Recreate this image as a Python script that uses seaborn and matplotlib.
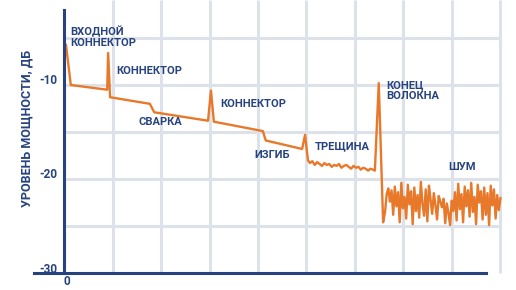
import numpy as np
import pandas as pd
import matplotlib
matplotlib.use("Agg")
import matplotlib.pyplot as plt
import matplotlib.transforms as mtransforms
import seaborn as sns

# ---------------- data ----------------
# main trace: launch connector, connectors, splice, bend, crack start
dist_main = [0.04, 0.14, 0.89, 0.91, 0.95, 1.77, 1.86, 2.97, 3.03, 3.09, 4.10, 4.16, 4.91, 4.97, 5.03]
level_main = [-5.7, -10.0, -10.5, -6.6, -11.3, -12.0, -12.9, -13.8, -10.6, -13.9, -14.9, -15.9, -16.8, -15.3, -18.0]

# crack region (small ripple)
dist_crack = [5.07, 5.12, 5.17, 5.22, 5.27, 5.32, 5.37, 5.42, 5.47, 5.52, 5.57, 5.62, 5.67, 5.72,
              5.77, 5.82, 5.87, 5.92, 5.97, 6.02, 6.07, 6.12, 6.17, 6.22, 6.27, 6.32, 6.37, 6.41]
level_crack = [-18.3, -18.1, -18.5, -18.2, -18.4, -18.6, -18.3, -18.5, -18.4, -18.7, -18.5, -18.6, -18.4, -18.8,
               -18.6, -18.5, -18.7, -18.9, -18.6, -18.8, -18.7, -19.0, -18.8, -18.9, -19.1, -18.9, -19.0, -19.1]

# fibre end reflection
dist_end = [6.49, 6.58]
level_end = [-9.8, -24.6]

# noise floor
noise_start, noise_stop = 6.62, 9.0
level_noise = [-23.5, -21.6, -21.0, -22.4, -21.2, -23.8, -20.8, -22.9, -21.4, -24.6,
               -20.4, -23.1, -21.9, -24.2, -20.6, -22.7, -21.3, -24.8, -20.9, -23.4,
               -21.7, -24.1, -20.3, -22.6, -23.9, -21.1, -24.5, -20.7, -22.2, -23.7,
               -21.5, -22.8, -24.3, -21.8, -22.4, -23.0, -22.1, -24.7, -22.6, -23.6,
               -24.9, -22.3, -23.4, -21.4, -24.4, -20.5, -23.2, -21.6, -24.6, -20.8,
               -22.9, -21.2, -24.0, -20.4, -23.5, -21.9, -24.8, -20.6, -22.5, -21.3,
               -24.3, -20.9, -23.8, -21.5, -24.9, -20.7, -22.8, -21.1, -24.2, -21.7,
               -23.3, -22.0]
dist_noise = list(np.linspace(noise_start, noise_stop, len(level_noise)))

y_ticks = [-30, -25, -20, -15, -10, -5]
y_tick_labels = ["-30", "", "-20", "", "-10", ""]
x_ticks = [0, 1, 2, 3, 4, 5, 6, 7, 8]
x_tick_labels = ["0", "", "", "", "", "", "", "", ""]

annotations = [
    ("ВХОДНОЙ\nКОННЕКТОР", 0.12, -3.72),
    ("КОННЕКТОР", 1.07, -7.98),
    ("СВАРКА", 1.53, -13.4),
    ("КОННЕКТОР", 3.22, -11.5),
    ("ИЗГИБ", 3.92, -16.9),
    ("ТРЕЩИНА", 5.18, -15.96),
    ("КОНЕЦ\nВОЛОКНА", 6.64, -9.47),
    ("ШУМ", 7.92, -18.2),
]
y_label = "УРОВЕНЬ МОЩНОСТИ, ДБ"

# ---------------- build frame ----------------
dist = dist_main + dist_crack + dist_end + dist_noise
level = level_main + level_crack + level_end + level_noise
df = pd.DataFrame({"dist": dist, "level": level})

# ---------------- style ----------------
sns.set_theme(style="white")
plt.rcParams["font.family"] = ["Roboto", "DejaVu Sans"]

NAVY = "#27437f"
ORANGE = "#e8782a"
GRID = "#dde2ea"

fig = plt.figure(figsize=(5.16, 2.90), dpi=100)
ax = fig.add_axes([0, 0, 1, 1])
ax.set_xlim(-1.32, 9.32)
ax.set_ylim(-31.8, -0.96)

# grid
ax.hlines([-25, -20, -15, -10, -5], 0, 9, color=GRID, lw=2.2, zorder=0)
ax.vlines([1, 2, 3, 4, 5, 6, 7, 8, 9], -30, -0.96, color=GRID, lw=2.2, zorder=0)

sns.lineplot(data=df, x="dist", y="level", ax=ax, color=ORANGE, lw=1.7,
             sort=False, estimator=None, zorder=3)

# spines as axes
for s in ["top", "right"]:
    ax.spines[s].set_visible(False)
ax.spines["left"].set_position(("data", 0))
ax.spines["bottom"].set_position(("data", -30))
ax.spines["left"].set_bounds(-30, -2.0)
ax.spines["bottom"].set_bounds(-0.62, 8.7)
for s in ["left", "bottom"]:
    ax.spines[s].set_color(NAVY)
    ax.spines[s].set_linewidth(2.2)
    ax.spines[s].set_zorder(4)

ax.set_yticks(y_ticks)
ax.set_yticklabels(y_tick_labels)
ax.set_xticks(x_ticks)
ax.set_xticklabels(x_tick_labels)
ax.tick_params(axis="both", direction="inout", length=8, width=1.4, color=NAVY,
               labelcolor=NAVY, labelsize=8.5, pad=1)
up = mtransforms.ScaledTranslation(0, 4 / 72, fig.dpi_scale_trans)
for lab in ax.get_yticklabels():
    lab.set_fontweight("bold")
    lab.set_transform(lab.get_transform() + up)
shift0 = mtransforms.ScaledTranslation(2 / 72, 3.5 / 72, fig.dpi_scale_trans)
for lab in ax.get_xticklabels():
    lab.set_fontweight("bold")
    lab.set_transform(lab.get_transform() + shift0)

ax.set_xlabel("")
ax.set_ylabel(y_label, color=NAVY, fontsize=9, fontweight="bold")
ax.yaxis.set_label_coords(33 / 516, 1 - 128 / 290)

for txt, x, y in annotations:
    ax.text(x, y, txt, color=NAVY, fontsize=8, fontweight="bold",
            ha="left", va="top", linespacing=1.1, zorder=5)

fig.savefig("out.png", dpi=100)
